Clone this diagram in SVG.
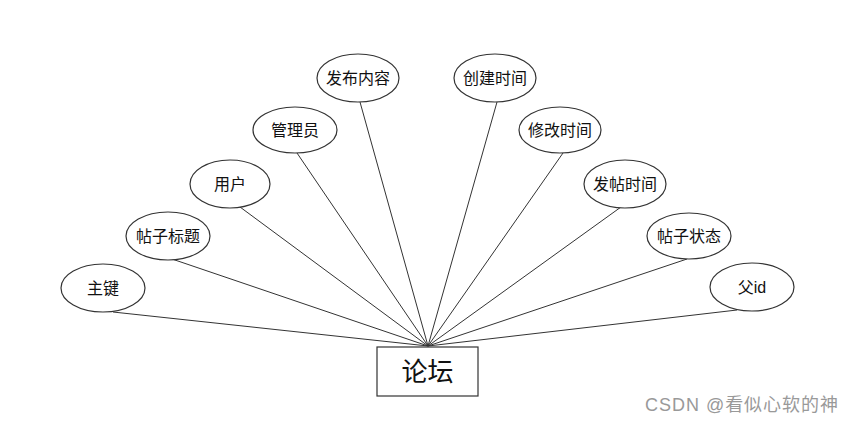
<svg xmlns="http://www.w3.org/2000/svg" width="852" height="423" viewBox="0 0 852 423">
<style>
.e{fill:#fff;stroke:#333;stroke-width:1.2}
.t{font-family:"Liberation Sans","Noto Sans CJK SC",sans-serif;font-size:16px;fill:#111;text-anchor:middle;dominant-baseline:central}
.c line{stroke:#333;stroke-width:1}
</style>
<rect width="852" height="423" fill="#fff"/>
<g id="connectors" class="c">
<line x1="113" y1="312" x2="428" y2="346"/>
<line x1="172" y1="259" x2="428" y2="346"/>
<line x1="240" y1="207" x2="428" y2="346"/>
<line x1="297" y1="153" x2="428" y2="346"/>
<line x1="360" y1="102" x2="428" y2="346"/>
<line x1="497" y1="102" x2="428" y2="346"/>
<line x1="563" y1="153" x2="428" y2="346"/>
<line x1="621" y1="207" x2="428" y2="346"/>
<line x1="687" y1="259" x2="428" y2="346"/>
<line x1="737" y1="310" x2="428" y2="346"/>
</g>
<g id="n_zhujian"><ellipse class="e" cx="103" cy="288" rx="42" ry="24"/><text class="t" x="103" y="288">主键</text></g>
<g id="n_tiezibiaoti"><ellipse class="e" cx="168" cy="236" rx="42" ry="24"/><text class="t" x="168" y="236">帖子标题</text></g>
<g id="n_yonghu"><ellipse class="e" cx="230" cy="184" rx="40" ry="24"/><text class="t" x="230" y="184">用户</text></g>
<g id="n_guanliyuan"><ellipse class="e" cx="295" cy="130" rx="42" ry="23"/><text class="t" x="295" y="130">管理员</text></g>
<g id="n_fabuneirong"><ellipse class="e" cx="358" cy="78" rx="41" ry="24"/><text class="t" x="358" y="78">发布内容</text></g>
<g id="n_chuangjianshijian"><ellipse class="e" cx="495" cy="78" rx="41" ry="24"/><text class="t" x="495" y="78">创建时间</text></g>
<g id="n_xiugaishijian"><ellipse class="e" cx="560" cy="130" rx="41" ry="23"/><text class="t" x="560" y="130">修改时间</text></g>
<g id="n_fatieshijian"><ellipse class="e" cx="625" cy="184" rx="41" ry="24"/><text class="t" x="625" y="184">发帖时间</text></g>
<g id="n_tiezizhuangtai"><ellipse class="e" cx="689" cy="236" rx="42" ry="23"/><text class="t" x="689" y="236">帖子状态</text></g>
<g id="n_fuid"><ellipse class="e" cx="752" cy="287" rx="42" ry="24"/><text class="t" x="752" y="287">父id</text></g>
<g id="n_luntan"><rect x="377" y="347" width="101" height="49" fill="#fff" stroke="#333" stroke-width="1.2"/><text class="t" x="427.5" y="371.5" style="font-size:26px">论坛</text></g>
<text x="645" y="411" textLength="193" lengthAdjust="spacing" style="font-family:'Liberation Sans','Noto Sans CJK SC',sans-serif;font-size:18px;fill:#999">CSDN @看似心软的神</text>
</svg>
